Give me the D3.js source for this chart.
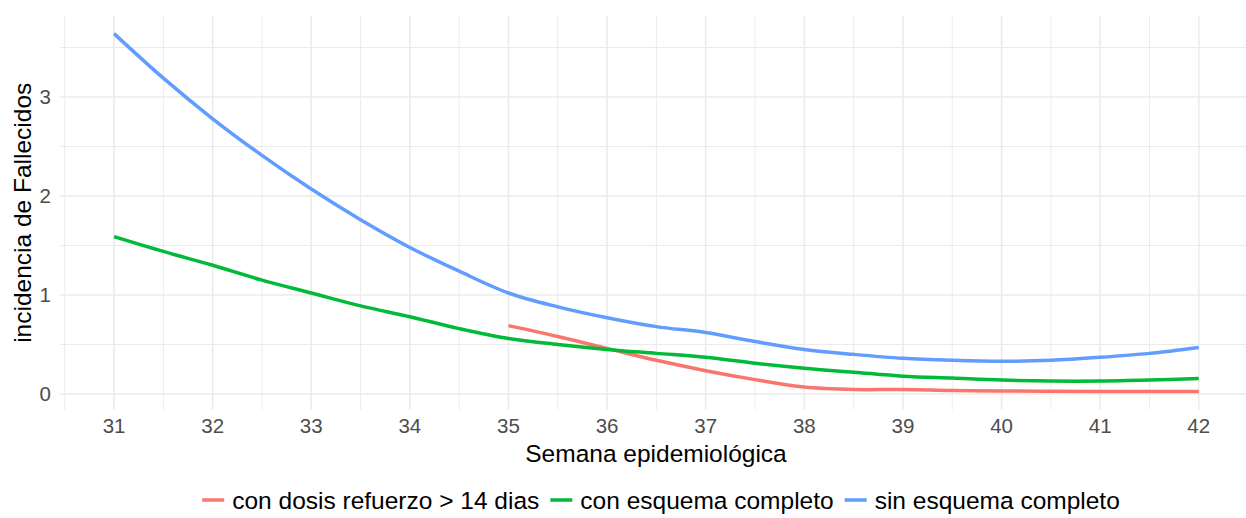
<!doctype html>
<html>
<head>
  <meta charset="utf-8">
  <script src="https://d3js.org/d3.v7.min.js"></script>
  <style>
    body { margin: 0; background: #fff; }
    text { font-family: "Liberation Sans", Arial, sans-serif; }
  </style>
</head>
<body>
  <svg width="1246" height="518"></svg>
  <script>
    // semanas y valores suavizados
    var semanas = [31, 31.5, 32, 32.5, 33, 33.5, 34, 34.5, 35, 35.5, 36, 36.5, 37, 37.5, 38, 38.5, 39, 39.5, 40, 40.5, 41, 41.5, 42];
    var sinEsquema = [3.64, 3.19, 2.78, 2.41, 2.07, 1.76, 1.48, 1.24, 1.02, 0.88, 0.77, 0.68, 0.62, 0.53, 0.45, 0.40, 0.36, 0.34, 0.33, 0.34, 0.37, 0.41, 0.47];
    var conEsquema = [1.59, 1.44, 1.30, 1.15, 1.02, 0.89, 0.78, 0.66, 0.56, 0.50, 0.45, 0.41, 0.37, 0.31, 0.26, 0.22, 0.18, 0.16, 0.14, 0.13, 0.13, 0.14, 0.155];
    var semanasRefuerzo = [35, 35.5, 36, 36.5, 37, 37.5, 38, 38.5, 39, 39.5, 40, 40.5, 41, 41.5, 42];
    var conRefuerzo = [0.69, 0.58, 0.46, 0.34, 0.235, 0.145, 0.07, 0.045, 0.045, 0.035, 0.03, 0.028, 0.025, 0.025, 0.025];

    var xTicks = [31, 32, 33, 34, 35, 36, 37, 38, 39, 40, 41, 42];
    var yTicks = [0, 1, 2, 3];

    var series = [
      { name: "con dosis refuerzo > 14 dias", color: "#F8766D", xs: semanasRefuerzo, ys: conRefuerzo },
      { name: "con esquema completo", color: "#00BA38", xs: semanas, ys: conEsquema },
      { name: "sin esquema completo", color: "#619CFF", xs: semanas, ys: sinEsquema }
    ];

    var svg = d3.select("svg");
    var pLeft = 59.8, pRight = 1253, pTop = 15.8, pBottom = 409.8;

    var x = d3.scaleLinear().domain([30.45, 42.55]).range([pLeft, pRight]);
    var y = d3.scaleLinear().domain([-0.16, 3.82]).range([pBottom, pTop]);

    var grid = svg.append("g");
    // lineas menores
    d3.range(30.5, 42.6, 1).forEach(function(v) {
      grid.append("line").attr("x1", x(v)).attr("x2", x(v)).attr("y1", pTop).attr("y2", pBottom)
        .attr("stroke", "#EBEBEB").attr("stroke-width", 1);
    });
    [0.5, 1.5, 2.5, 3.5].forEach(function(v) {
      grid.append("line").attr("x1", pLeft).attr("x2", pRight).attr("y1", y(v)).attr("y2", y(v))
        .attr("stroke", "#EBEBEB").attr("stroke-width", 1);
    });
    // lineas mayores
    xTicks.forEach(function(v) {
      grid.append("line").attr("x1", x(v)).attr("x2", x(v)).attr("y1", pTop).attr("y2", pBottom)
        .attr("stroke", "#EBEBEB").attr("stroke-width", 1.6);
    });
    yTicks.forEach(function(v) {
      grid.append("line").attr("x1", pLeft).attr("x2", pRight).attr("y1", y(v)).attr("y2", y(v))
        .attr("stroke", "#EBEBEB").attr("stroke-width", 1.6);
    });

    // etiquetas de ejes
    svg.append("g").selectAll("text").data(xTicks).enter().append("text")
      .attr("x", function(d) { return x(d); })
      .attr("y", 433)
      .attr("text-anchor", "middle")
      .attr("font-size", "20.5px")
      .attr("fill", "#4D4D4D")
      .text(function(d) { return d; });

    svg.append("g").selectAll("text").data(yTicks).enter().append("text")
      .attr("x", 51)
      .attr("y", function(d) { return y(d) + 7.5; })
      .attr("text-anchor", "end")
      .attr("font-size", "20.5px")
      .attr("fill", "#4D4D4D")
      .text(function(d) { return d; });

    svg.append("text")
      .attr("x", 656).attr("y", 462)
      .attr("text-anchor", "middle")
      .attr("font-size", "24.5px")
      .attr("fill", "#000")
      .text("Semana epidemiológica");

    svg.append("text")
      .attr("transform", "translate(31," + ((pTop + pBottom) / 2) + ") rotate(-90)")
      .attr("text-anchor", "middle")
      .attr("font-size", "24.5px")
      .attr("fill", "#000")
      .text("incidencia de Fallecidos");

    // curvas
    var line = d3.line()
      .x(function(d) { return x(d[0]); })
      .y(function(d) { return y(d[1]); })
      .curve(d3.curveCatmullRom.alpha(0.5));

    series.forEach(function(s) {
      svg.append("path")
        .datum(s.xs.map(function(v, i) { return [v, s.ys[i]]; }))
        .attr("d", line)
        .attr("fill", "none")
        .attr("stroke", s.color)
        .attr("stroke-width", 3.5);
    });

    // leyenda
    var legend = svg.append("g");
    var pos = 0;
    series.forEach(function(s) {
      var g = legend.append("g");
      g.append("line").attr("x1", 0).attr("x2", 22).attr("y1", 0).attr("y2", 0)
        .attr("stroke", s.color).attr("stroke-width", 3.5);
      var t = g.append("text").attr("x", 30).attr("y", 8.5)
        .attr("font-size", "24.5px").attr("fill", "#000").text(s.name);
      var w = 30 + t.node().getComputedTextLength();
      g.attr("transform", "translate(" + pos + ",0)");
      pos += w + 11;
    });
    var total = pos - 11;
    legend.attr("transform", "translate(" + (661 - total / 2) + ",500)");
  </script>
</body>
</html>
